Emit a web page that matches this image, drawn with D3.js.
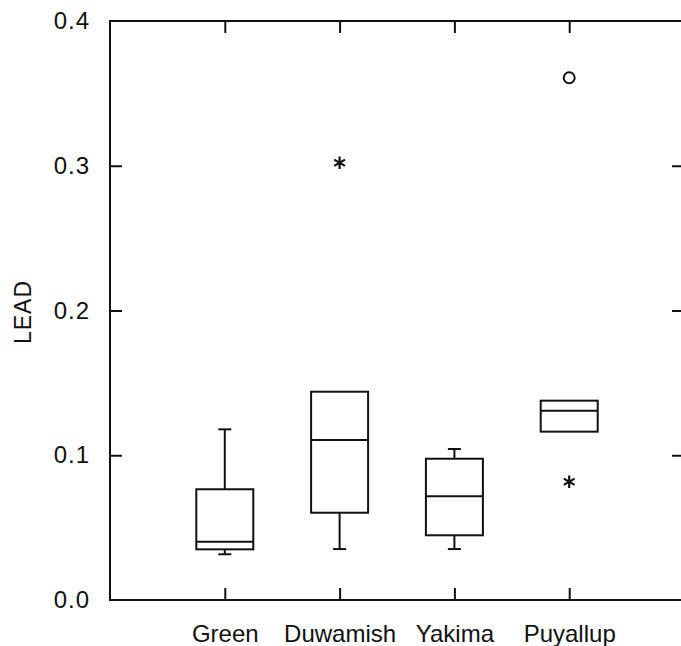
<!DOCTYPE html>
<html>
<head>
<meta charset="utf-8">
<script src="https://cdn.jsdelivr.net/npm/d3@7"></script>
<style>
  html, body { margin: 0; padding: 0; background: #fff; }
  svg { display: block; }
  text { font-family: "Liberation Sans", Arial, sans-serif; fill: #111; }
</style>
</head>
<body>
<svg id="chart" width="681" height="646"></svg>
<script>
const categories = ["Green", "Duwamish", "Yakima", "Puyallup"];
const whiskerLow  = [0.0316, 0.0352, 0.0352, 0.1163];
const q1          = [0.0350, 0.0603, 0.0447, 0.1163];
const median      = [0.0403, 0.1105, 0.0716, 0.1308];
const q3          = [0.0765, 0.1439, 0.0976, 0.1377];
const whiskerHigh = [0.1179, 0.1439, 0.1043, 0.1377];
// outliers: category, value, marker type
const outlierCat  = ["Duwamish", "Puyallup", "Puyallup"];
const outlierVal  = [0.3021, 0.0817, 0.3608];
const outlierType = ["star", "star", "circle"];
const yTicks = [0.0, 0.1, 0.2, 0.3, 0.4];

const svg = d3.select("#chart");
const mLeft = 110, mRight = 684, mTop = 21, mBottom = 600;

const x = d3.scalePoint().domain(categories).range([mLeft, mRight]).padding(1);
const y = d3.scaleLinear().domain([0, 0.4]).range([mBottom, mTop]);

const ink = "#111";
const g = svg.append("g");

// frame
g.append("rect").attr("x", mLeft).attr("y", mTop)
  .attr("width", mRight - mLeft).attr("height", mBottom - mTop)
  .attr("fill", "none").attr("stroke", ink).attr("stroke-width", 2);

// left axis (ticks inward)
const yAxisL = d3.axisLeft(y).tickValues(yTicks).tickFormat(d3.format(".1f")).tickSize(-12).tickPadding(20);
const gl = g.append("g").attr("transform", `translate(${mLeft},0)`).call(yAxisL);
gl.select(".domain").remove();
gl.selectAll("line").attr("stroke", ink).attr("stroke-width", 2);
gl.selectAll("text").style("font-size", "24px").style("letter-spacing", "1px").attr("fill", ink);
gl.selectAll(".tick").filter(d => d === 0 || d === 0.4).select("line").remove();

// right axis ticks inward
const yAxisR = d3.axisRight(y).tickValues(yTicks).tickFormat("").tickSize(-12);
const gr = g.append("g").attr("transform", `translate(${mRight},0)`).call(yAxisR);
gr.select(".domain").remove();
gr.selectAll("line").attr("stroke", ink).attr("stroke-width", 2);
gr.selectAll(".tick").filter(d => d === 0 || d === 0.4).select("line").remove();

// bottom axis
const xAxisB = d3.axisBottom(x).tickSize(-12).tickPadding(25);
const gb = g.append("g").attr("transform", `translate(0,${mBottom})`).call(xAxisB);
gb.select(".domain").remove();
gb.selectAll("line").attr("stroke", ink).attr("stroke-width", 2);
gb.selectAll("text").style("font-size", "24px").attr("fill", ink);

// top axis
const xAxisT = d3.axisTop(x).tickSize(-12).tickFormat("");
const gt = g.append("g").attr("transform", `translate(0,${mTop})`).call(xAxisT);
gt.select(".domain").remove();
gt.selectAll("line").attr("stroke", ink).attr("stroke-width", 2);

// y label
svg.append("text")
  .attr("transform", `translate(31,312) rotate(-90)`)
  .attr("text-anchor", "middle")
  .style("font-size", "23px")
  .style("letter-spacing", "1px")
  .text("LEAD");

// boxes
const boxW = 57, capW = 13;
const data = categories.map((c, i) => ({
  c, lo: whiskerLow[i], q1: q1[i], med: median[i], q3: q3[i], hi: whiskerHigh[i]
}));
const bg = g.append("g").attr("stroke", ink).attr("stroke-width", 2).attr("fill", "none");
data.forEach(d => {
  const cx = x(d.c);
  if (d.hi > d.q3) {
    bg.append("line").attr("x1", cx).attr("x2", cx).attr("y1", y(d.q3)).attr("y2", y(d.hi));
    bg.append("line").attr("x1", cx - capW / 2).attr("x2", cx + capW / 2).attr("y1", y(d.hi)).attr("y2", y(d.hi));
  }
  if (d.lo < d.q1) {
    bg.append("line").attr("x1", cx).attr("x2", cx).attr("y1", y(d.q1)).attr("y2", y(d.lo));
    bg.append("line").attr("x1", cx - capW / 2).attr("x2", cx + capW / 2).attr("y1", y(d.lo)).attr("y2", y(d.lo));
  }
  bg.append("rect").attr("x", cx - boxW / 2).attr("y", y(d.q3))
    .attr("width", boxW).attr("height", y(d.q1) - y(d.q3));
  bg.append("line").attr("x1", cx - boxW / 2).attr("x2", cx + boxW / 2)
    .attr("y1", y(d.med)).attr("y2", y(d.med));
});

// outliers
const og = g.append("g");
outlierCat.forEach((c, i) => {
  const cx = x(c), cy = y(outlierVal[i]);
  if (outlierType[i] === "circle") {
    og.append("circle").attr("cx", cx).attr("cy", cy).attr("r", 5.5)
      .attr("fill", "none").attr("stroke", ink).attr("stroke-width", 2);
  } else {
    og.append("path").attr("d", d3.symbol().type(d3.symbolAsterisk).size(110)())
      .attr("transform", `translate(${cx},${cy})`)
      .attr("fill", "none").attr("stroke", ink).attr("stroke-width", 2.2);
  }
});
</script>
</body>
</html>
